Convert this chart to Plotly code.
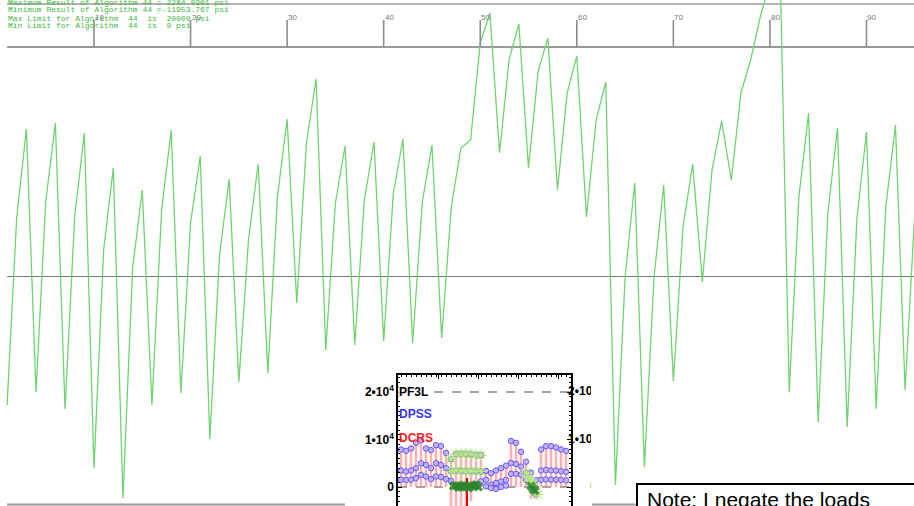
import plotly.graph_objects as go

W, H = 914, 506

# ---------------- main trace data (station vs stress, arbitrary plot units) ----------------
stations = list(range(1, 96))
stress = [-129, 59, 147, -116, 74, 153, -133, 59, 143, -192,
          26, 108, -222, 8, 86, -129, 66, 146, -117, 53,
          120, -163, 21, 97, -106, 36, 112, -97, 79, 157,
          -27, 133, 197, -74, 73, 130, -69, 76, 134, -65,
          83, 137, -67, 74, 131, -62, 69, 128, 136, 233,
          263, 123, 217, 252, 108, 205, 238, 86, 183, 220,
          59, 156, 194, -209, -1, 93, -191, -1, 91, -105,
          49, 112, -6, 106, 155, 96, 183, 216, 259, 296,
          331, -116, 79, 163, -146, 63, 148, -151, 56, 144,
          -133, 69, 151, -114, 63]
tick_values = [10, 20, 30, 40, 50, 60, 70, 80, 90]
tick_labels = [str(v) for v in tick_values]

header_lines = [
    "Maximum Result of Algorithm 44 = 2284.8901 psi",
    "Minimum Result of Algorithm 44 =-11953.767 psi",
    "Max Limit for Algorithm  44  is  20000 psi",
    "Min Limit for Algorithm  44  is  0 psi",
]

# ---------------- inset data ----------------
inset_cols = list(range(34))
dpss_upper = [7900, 7630, 8120, 9290, 9850, 8120, 7770, 8810, 8600, 7210,
              5830, 6900, 7000, 6900, 6900, 6700, 6730, 3400, 2900, 3460,
              3960, 4500, 9700, 9290, 7420, 5330, 3000, 1500, 7900, 8600,
              8600, 8330, 7900, 7600]
dpss_mid = [3470, 3260, 3470, 3960, 5000, 4650, 3960, 5000, 4650, 3960,
            3300, 3500, 3400, 3300, 3400, 3300, 3300, 1530, 480, 830,
            1170, 1500, 5060, 4850, 4300, 3000, 480, -200, 3470, 3600,
            3500, 3470, 3300, 3200]
dpss_low = [1530, 1460, 1530, 1870, 2560, 2220, 1670, 2220, 2100, 1670,
            1300, 300, 0, 200, 100, 500, 1200, 140, -200, -400,
            0, 300, 2770, 2770, 2600, 1500, -200, -1600, 1530, 1600,
            1550, 1530, 1500, 1400]
dcrs_bottom = [0] * 10 + [-4000, -4000, -4000, -4000, -3000] + [0] * 11 + [-2500, -2500] + [0] * 6
red_col = [13.2]
red_top = [1870]
red_bottom = [-4000]
pf3l_col = [10, 11, 12, 13, 14, 15, 16,
            10, 11, 12, 13, 14, 15, 16,
            25, 25.5, 26, 26.5, 27, 27.3, 26, 26.5]
pf3l_val = [6000, 6900, 7000, 6900, 6900, 6700, 6700,
            3300, 3500, 3400, 3300, 3400, 3300, 3300,
            3000, 2000, 500, -300, -1000, -1600, 1200, 600]
pf3l_low_col = [10.5, 11, 11.5, 12, 12.5, 13, 13.5, 14, 14.5, 15, 15.5, 26, 26.4, 26.8]
pf3l_low_val = [200, 300, -100, 0, 400, 200, -200, 100, 300, 500, 0, 200, -400, -800]
inset_ticks = [0, 10000, 20000]
inset_ticktext = ["<b>0</b>", "<b>1•10<sup>4</sup></b>", "<b>2•10<sup>4</sup></b>"]
legend_names = ["PF3L", "DPSS", "DCRS"]
legend_colors = ["#000000", "#3333ff", "#ff1a1a"]
note_text = "Note: I negate the loads"

Y2_RANGE = [-4000, 23579]


def pxp(px):
    return px / W


def pyp(py):
    return 1 - py / H


fig = go.Figure()

# main green line
fig.add_trace(go.Scatter(x=stations, y=stress, mode="lines",
                         line=dict(color="#6fd46f", width=1.3),
                         xaxis="x", yaxis="y", hoverinfo="skip"))

# tick marks on the top axis
tx, ty = [], []
for t in tick_values:
    tx += [t, t, None]
    ty += [229, 256, None]
fig.add_trace(go.Scatter(x=tx, y=ty, mode="lines", line=dict(color="#8c8c8c", width=1.6),
                         xaxis="x", yaxis="y", hoverinfo="skip"))

# ---- inset traces ----
bx, by = [], []
for c, top, bot in zip(inset_cols, dpss_upper, dcrs_bottom):
    bx += [c, c, None]
    by += [bot, top, None]
fig.add_trace(go.Scatter(x=bx, y=by, mode="lines", line=dict(color="rgba(255,110,110,0.55)", width=2.5),
                         xaxis="x2", yaxis="y2", hoverinfo="skip"))
rx, ry = [], []
for c, top, bot in zip(red_col, red_top, red_bottom):
    rx += [c, c, None]
    ry += [bot, top, None]
fig.add_trace(go.Scatter(x=rx, y=ry, mode="lines", line=dict(color="#ee0000", width=2),
                         xaxis="x2", yaxis="y2", hoverinfo="skip"))
for series in (dpss_upper, dpss_mid, dpss_low):
    fig.add_trace(go.Scatter(x=inset_cols, y=series, mode="markers",
                             marker=dict(symbol="circle", size=5.5, color="#c0b0f5",
                                         line=dict(color="#6a5cf0", width=1)),
                             xaxis="x2", yaxis="y2", hoverinfo="skip"))
fig.add_trace(go.Scatter(x=pf3l_col, y=pf3l_val, mode="markers",
                         marker=dict(symbol="asterisk-open", size=10,
                                     line=dict(color="rgba(50,140,50,0.75)", width=1.1)),
                         xaxis="x2", yaxis="y2", hoverinfo="skip"))
fig.add_trace(go.Scatter(x=pf3l_low_col, y=pf3l_low_val, mode="markers",
                         marker=dict(symbol="x", size=8, color="rgba(40,130,40,0.8)",
                                     line=dict(color="rgba(60,150,60,0.6)", width=0.5)),
                         xaxis="x2", yaxis="y2", hoverinfo="skip"))
# right-hand inset labels on a helper axis (cropped by a white patch as in the reference)
fig.add_trace(go.Scatter(x=[597] * 3, y=inset_ticks, mode="text", text=inset_ticktext,
                         textposition="middle left", cliponaxis=False,
                         textfont=dict(family="Liberation Sans", size=12, color="#000"),
                         xaxis="x3", yaxis="y3", hoverinfo="skip"))

shapes = []
gray = "#9a9a9a"
# top border, axis line, zero line, bottom line (paper coords)
shapes.append(dict(type="line", xref="paper", yref="paper", x0=pxp(7), x1=1, y0=pyp(4), y1=pyp(4),
                   line=dict(color=gray, width=1.6), layer="below"))
shapes.append(dict(type="line", xref="paper", yref="paper", x0=pxp(7), x1=1, y0=pyp(47), y1=pyp(47),
                   line=dict(color=gray, width=2), layer="below"))
shapes.append(dict(type="line", xref="paper", yref="paper", x0=pxp(7), x1=1, y0=pyp(276.5), y1=pyp(276.5),
                   line=dict(color="#7a7a7a", width=1.2), layer="below"))
shapes.append(dict(type="line", xref="paper", yref="paper", x0=pxp(7), x1=1, y0=pyp(504.5), y1=pyp(504.5),
                   line=dict(color=gray, width=2), layer="below"))
# inset white background
shapes.append(dict(type="rect", xref="paper", yref="paper", x0=pxp(345), x1=pxp(592), y0=pyp(506), y1=pyp(362),
                   fillcolor="white", line=dict(width=0), layer="below"))
# inset dashed lines
for yv in (0, 20000):
    shapes.append(dict(type="line", xref="x2 domain", yref="y2", x0=0, x1=1, y0=yv, y1=yv,
                       line=dict(color="#888", width=1.5, dash="dash"), layer="below"))
# white patch cropping the right labels
shapes.append(dict(type="rect", xref="paper", yref="paper", x0=pxp(591), x1=pxp(606), y0=pyp(499), y1=pyp(380),
                   fillcolor="white", line=dict(width=0), layer="above"))
# note box
shapes.append(dict(type="rect", xref="paper", yref="paper", x0=pxp(637), x1=pxp(940), y0=pyp(540), y1=pyp(484),
                   fillcolor="white", line=dict(color="black", width=2), layer="above"))

annotations = []
for i, line in enumerate(header_lines):
    annotations.append(dict(text=line, xref="paper", yref="paper", x=pxp(7), y=pyp([2.2, 10, 18, 25.8][i]),
                            xanchor="left", yanchor="middle", showarrow=False, borderpad=0,
                            font=dict(family="Liberation Mono", size=8, color="#3db83d")))
for t, lab in zip(tick_values, tick_labels):
    annotations.append(dict(text=lab, xref="x", yref="paper", x=t, y=pyp(23),
                            xanchor="left", yanchor="bottom", showarrow=False, borderpad=0,
                            font=dict(family="Liberation Sans", size=8, color="#777")))
for i, (name, col) in enumerate(zip(legend_names, legend_colors)):
    annotations.append(dict(text="<b>%s</b>" % name, xref="paper", yref="paper", x=pxp(398),
                            y=pyp([392, 414, 438][i]), xanchor="left", yanchor="middle",
                            showarrow=False, bgcolor="white" if i == 0 else None, borderpad=0,
                            font=dict(family="Liberation Sans", size=12, color=col)))
annotations.append(dict(text=note_text, xref="paper", yref="paper", x=pxp(646), y=pyp(487),
                        xanchor="left", yanchor="top", showarrow=False, borderpad=0,
                        font=dict(family="Liberation Sans", size=21, color="black")))

fig.update_layout(
    width=W, height=H, margin=dict(l=0, r=0, t=0, b=0),
    paper_bgcolor="white", plot_bgcolor="rgba(0,0,0,0)", showlegend=False,
    xaxis=dict(domain=[0, 1], range=[0.266, 94.92], visible=False),
    yaxis=dict(domain=[0, 1], range=[-230, 276], visible=False),
    xaxis2=dict(domain=[pxp(398), pxp(571)], range=[-0.6, 34], anchor="y2", side="top",
                showline=True, linecolor="black", linewidth=1.5, ticks="inside", ticklen=4,
                tickcolor="black", tick0=-0.6, dtick=8, showticklabels=False, showgrid=False,
                zeroline=False, minor=dict(ticks="inside", ticklen=2, dtick=1, tickcolor="black")),
    yaxis2=dict(domain=[0, pyp(375)], range=Y2_RANGE, anchor="x2", showline=True,
                mirror="ticks", linecolor="black", linewidth=1.5, ticks="inside", ticklen=4,
                tickcolor="black", tickvals=inset_ticks, ticktext=inset_ticktext,
                tickfont=dict(family="Liberation Sans", size=12, color="black"),
                showgrid=False, zeroline=False,
                minor=dict(ticks="inside", ticklen=2, dtick=1000, tickcolor="black")),
    xaxis3=dict(domain=[pxp(540), pxp(610)], range=[540, 610], anchor="y3", visible=False),
    yaxis3=dict(domain=[0, pyp(375)], range=Y2_RANGE, anchor="x3", visible=False),
    shapes=shapes, annotations=annotations,
)

fig.write_html("out.html", config={"displayModeBar": False},
               post_script="document.body.style.margin='0';document.body.style.padding='0';"
                           "document.body.style.overflow='hidden';")
